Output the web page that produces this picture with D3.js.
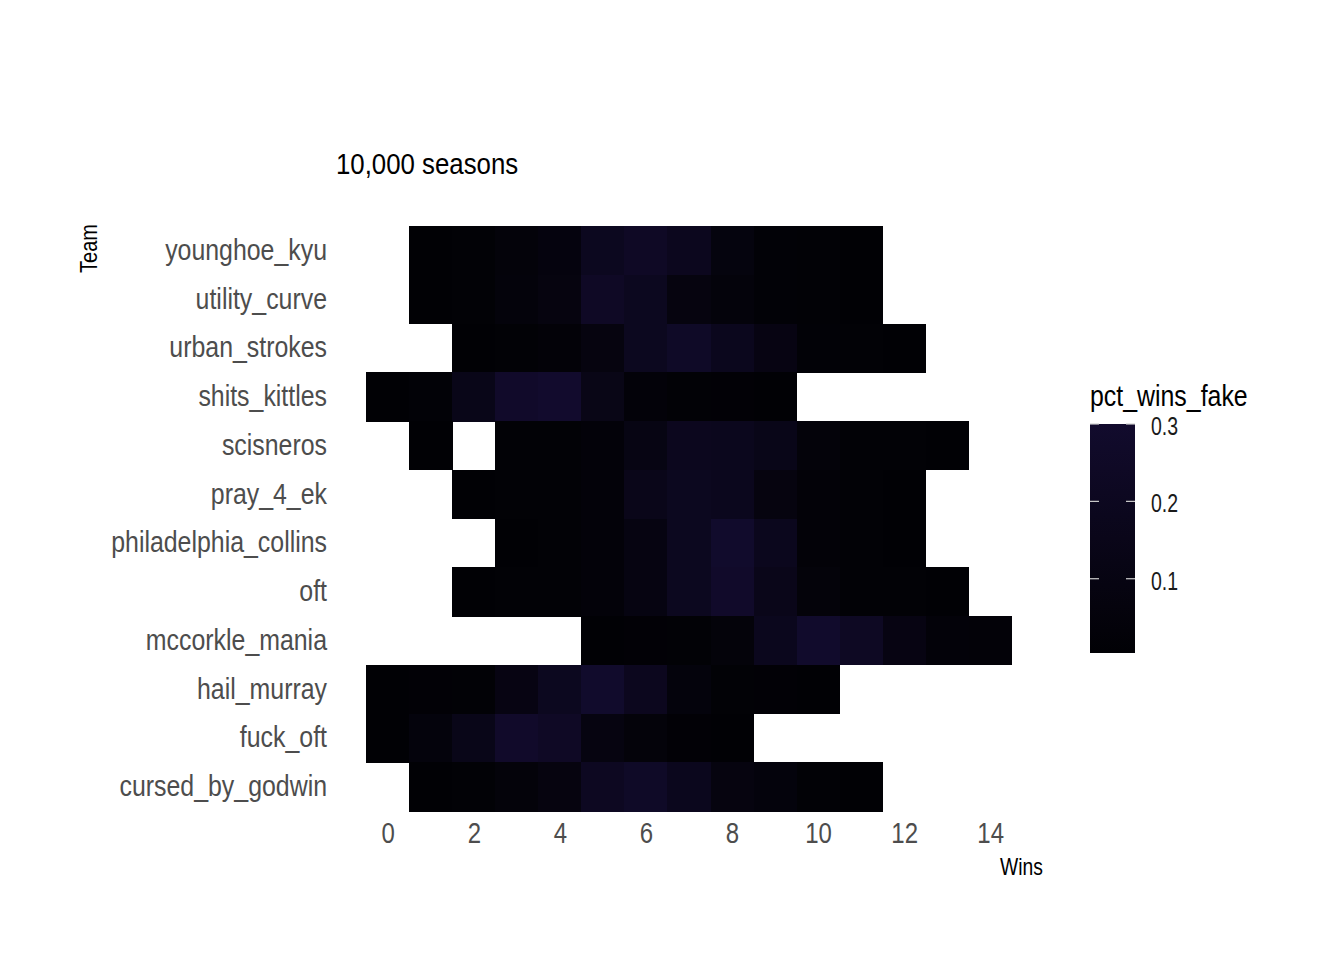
<!DOCTYPE html>
<html>
<head>
<meta charset="utf-8">
<script src="https://cdn.jsdelivr.net/npm/d3@7"></script>
<style>
  body { margin: 0; background: #ffffff; }
  text { font-family: "Liberation Sans", Arial, sans-serif; }
</style>
</head>
<body>
<div id="chart-container"></div>
<script>
/**************************************************
 * Data: share of simulated seasons per win total
 **************************************************/

// Teams, top to bottom as shown
const teams = [
  "younghoe_kyu", "utility_curve", "urban_strokes", "shits_kittles",
  "scisneros", "pray_4_ek", "philadelphia_collins", "oft",
  "mccorkle_mania", "hail_murray", "fuck_oft", "cursed_by_godwin"
];

// Win totals on the x axis
const wins = [0, 1, 2, 3, 4, 5, 6, 7, 8, 9, 10, 11, 12, 13, 14];
const xTickValues = [0, 2, 4, 6, 8, 10, 12, 14];
const legendTickValues = [0.1, 0.2, 0.3];

// pct_wins_fake for each team, one entry per win total (null = never happened)
const younghoe_kyu = [null, .008, .015, .045, .07, .20, .245, .19, .075, .025, .015, .006, null, null, null];
const utility_curve = [null, .007, .018, .05, .08, .245, .20, .08, .05, .022, .015, .006, null, null, null];
const urban_strokes = [null, null, .007, .015, .028, .08, .195, .255, .18, .10, .022, .015, .006, null, null];
const shits_kittles = [.004, .022, .145, .28, .30, .135, .04, .015, .013, .005, null, null, null, null, null];
const scisneros = [null, .005, null, .015, .017, .035, .11, .19, .185, .145, .045, .017, .015, .006, null];
const pray_4_ek = [null, null, .006, .015, .017, .04, .155, .195, .185, .08, .028, .015, .006, null, null];
const philadelphia_collins = [null, null, null, .007, .015, .04, .095, .195, .29, .18, .028, .015, .006, null, null];
const oft = [null, null, .006, .015, .015, .035, .095, .195, .28, .15, .045, .017, .015, .008, null];
const mccorkle_mania = [null, null, null, null, null, .006, .013, .017, .045, .18, .29, .225, .10, .035, .03];
const hail_murray = [.005, .013, .017, .10, .195, .29, .19, .055, .017, .013, .006, null, null, null, null];
const fuck_oft = [.005, .055, .145, .28, .245, .09, .045, .013, .005, null, null, null, null, null, null];
const cursed_by_godwin = [null, .006, .015, .045, .08, .21, .255, .18, .08, .055, .015, .006, null, null, null];

const pctByTeam = [
  younghoe_kyu, utility_curve, urban_strokes, shits_kittles,
  scisneros, pray_4_ek, philadelphia_collins, oft,
  mccorkle_mania, hail_murray, fuck_oft, cursed_by_godwin
];

// Long format for the tiles
const tiles = [];
teams.forEach((team, i) => {
  pctByTeam[i].forEach((pct, j) => {
    if (pct !== null) tiles.push({ team: team, wins: wins[j], pct: pct });
  });
});

/**************************************************
 * Rendering
 **************************************************/

const width = 1344;
const height = 960;

const svg = d3.select("#chart-container")
  .append("svg")
  .attr("width", width)
  .attr("height", height);

// the original uses a narrow face; squeeze the regular one horizontally
function addText(x, y, k, str) {
  return svg.append("text")
    .attr("transform", `translate(${x},${y}) scale(${k},1)`)
    .text(str);
}

// x: continuous wins, tiles are 1 wide, plus 5% expansion like ggplot
const xMin = d3.min(wins) - 0.5;
const xMax = d3.max(wins) + 0.5;
const xPad = (xMax - xMin) * 0.05;
const xScale = d3.scaleLinear()
  .domain([xMin - xPad, xMax + xPad])
  .range([334, 1044]);

const yScale = d3.scaleBand()
  .domain(teams)
  .range([226, 811])
  .padding(0);

const pctExtent = d3.extent(tiles, d => d.pct);
const colorScale = d3.scaleLinear()
  .domain([0, 0.3])
  .range(["#010104", "#120b2d"])
  .clamp(true);

// Tiles
svg.append("g")
  .selectAll("rect")
  .data(tiles)
  .enter()
  .append("rect")
  .attr("x", d => xScale(d.wins - 0.5))
  .attr("y", d => yScale(d.team))
  .attr("width", xScale(1) - xScale(0) + 0.5)
  .attr("height", yScale.bandwidth() + 0.5)
  .attr("fill", d => colorScale(d.pct))
  .attr("shape-rendering", "crispEdges");

// Axes, no lines or ticks
const xAxis = svg.append("g")
  .attr("transform", `translate(0,811)`)
  .call(d3.axisBottom(xScale).tickValues(xTickValues).tickSize(0).tickPadding(11));
xAxis.select(".domain").remove();
xAxis.attr("font-family", null).attr("font-size", null);
xAxis.selectAll("text")
  .attr("font-size", "30px")
  .attr("fill", "#4d4d4d")
  .attr("transform", "scale(0.8,1)");

const yAxis = svg.append("g")
  .attr("transform", `translate(334,0)`)
  .call(d3.axisLeft(yScale).tickSize(0).tickPadding(7));
yAxis.select(".domain").remove();
yAxis.attr("font-family", null).attr("font-size", null);
yAxis.selectAll("text")
  .attr("font-size", "30px")
  .attr("fill", "#4d4d4d")
  .attr("x", -7 / 0.83)
  .attr("transform", "scale(0.83,1)");

// Title and axis titles
addText(336, 174, 0.89, "10,000 seasons")
  .attr("font-size", "29px")
  .attr("fill", "#000000");

addText(1043, 875, 0.84, "Wins")
  .attr("text-anchor", "end")
  .attr("font-size", "23px")
  .attr("fill", "#000000");

svg.append("text")
  .attr("transform", "translate(97,224) rotate(-90) scale(0.87,1)")
  .attr("text-anchor", "end")
  .attr("font-size", "23px")
  .attr("fill", "#000000")
  .text("Team");

// Colour bar legend
const legendX = 1090;
const legendW = 45;
const legendScale = d3.scaleLinear()
  .domain(pctExtent)
  .range([653, 424]);

const defs = svg.append("defs");
const grad = defs.append("linearGradient")
  .attr("id", "pct-grad")
  .attr("x1", 0).attr("y1", 1)
  .attr("x2", 0).attr("y2", 0);
d3.range(0, 1.0001, 0.1).forEach(t => {
  const v = pctExtent[0] + t * (pctExtent[1] - pctExtent[0]);
  grad.append("stop")
    .attr("offset", `${t * 100}%`)
    .attr("stop-color", colorScale(v));
});

svg.append("rect")
  .attr("x", legendX)
  .attr("y", legendScale(pctExtent[1]))
  .attr("width", legendW)
  .attr("height", legendScale(pctExtent[0]) - legendScale(pctExtent[1]))
  .attr("fill", "url(#pct-grad)");

const legendTicks = svg.append("g")
  .selectAll("g")
  .data(legendTickValues)
  .enter()
  .append("g");

legendTicks.append("line")
  .attr("x1", legendX).attr("x2", legendX + 9)
  .attr("y1", d => legendScale(d)).attr("y2", d => legendScale(d))
  .attr("stroke", "#cfcfcf").attr("stroke-width", 1.2);
legendTicks.append("line")
  .attr("x1", legendX + legendW - 9).attr("x2", legendX + legendW)
  .attr("y1", d => legendScale(d)).attr("y2", d => legendScale(d))
  .attr("stroke", "#cfcfcf").attr("stroke-width", 1.2);
legendTicks.append("text")
  .attr("transform", d => `translate(${legendX + 61},${legendScale(d) + 11}) scale(0.78,1)`)
  .attr("font-size", "25px")
  .attr("fill", "#1a1a1a")
  .text(d => d3.format(".1f")(d));

addText(legendX, 406, 0.83, "pct_wins_fake")
  .attr("font-size", "30px")
  .attr("fill", "#000000");
</script>
</body>
</html>
